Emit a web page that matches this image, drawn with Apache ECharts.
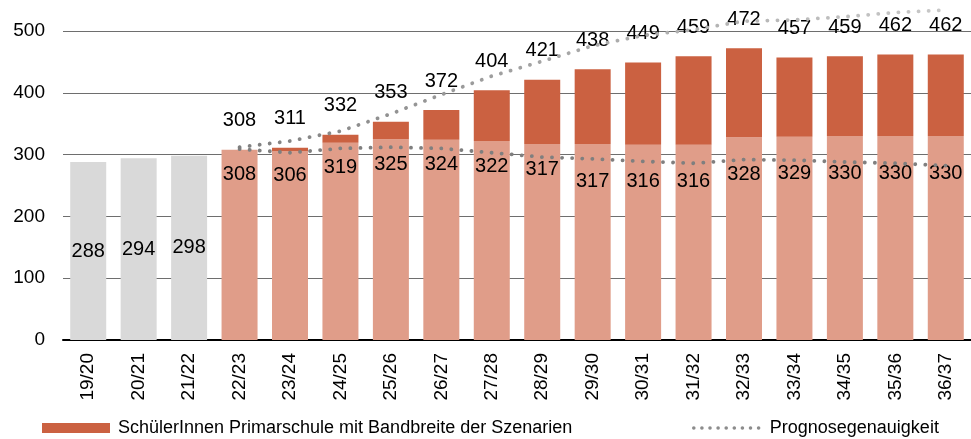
<!DOCTYPE html>
<html>
<head>
<meta charset="utf-8">
<script src="https://cdn.jsdelivr.net/npm/echarts@6/dist/echarts.min.js"></script>
<style>
  html, body { margin: 0; padding: 0; background: #fff; }
  #main { width: 971px; height: 439px; }
</style>
</head>
<body>
<div id="main"></div>
<script>
var chartDom = document.getElementById('main');
var myChart = echarts.init(chartDom);
var option;

// Schuljahre
var years = ['19/20', '20/21', '21/22', '22/23', '23/24', '24/25', '25/26', '26/27', '27/28',
  '28/29', '29/30', '30/31', '31/32', '32/33', '33/34', '34/35', '35/36', '36/37'];
// Ist-Werte (grau)
var actual = [288, 294, 298, '-', '-', '-', '-', '-', '-', '-', '-', '-', '-', '-', '-', '-', '-', '-'];
// unteres Szenario
var lower = ['-', '-', '-', 308, 306, 319, 325, 324, 322, 317, 317, 316, 316, 328, 329, 330, 330, 330];
// oberes Szenario (Gesamthoehe)
var upper = ['-', '-', '-', 308, 311, 332, 353, 372, 404, 421, 438, 449, 459, 472, 457, 459, 462, 462];
// Prognosegenauigkeit, obere und untere Linie
var accHigh = ['-', '-', '-', 312, 322, 338, 366, 397, 427, 451, 476, 493, 502, 516, 518, 523, 530, 534];
var accLow = ['-', '-', '-', 309, 303, 310, 312, 310, 303, 296, 293, 289, 286, 292, 291, 288, 286, 282];

var FONT = 'Liberation Sans, Arial, sans-serif';
var bandName = 'SchülerInnen Primarschule mit Bandbreite der Szenarien';
var lineName = 'Prognosegenauigkeit';

// Bandbreite = oberes minus unteres Szenario
var band = upper.map((v, i) => v === '-' ? '-' : v - lower[i]);

// untere Beschriftungen ab 29/30 etwas tiefer (wie im Original verschoben)
var lowerData = lower.map((v, i) => v === '-' ? v : {
  value: v,
  label: { distance: i >= 10 ? 27 : 15 }
});

var dotted = {
  type: [0.1, 10],
  cap: 'round',
  width: 3.8
};

option = {
  animation: false,
  textStyle: { fontFamily: FONT },
  grid: { left: 63, right: -3, top: 31, bottom: 99 },
  legend: [
    {
      left: 37, top: 414,
      itemWidth: 68, itemHeight: 10, itemGap: 8,
      icon: 'rect',
      textStyle: { fontFamily: FONT, fontSize: 18, color: '#000', padding: [0, 0, 0, 3] },
      data: [bandName]
    },
    {
      left: 687, top: 414,
      itemWidth: 68, itemHeight: 10,
      textStyle: { fontFamily: FONT, fontSize: 18, color: '#000', padding: [0, 0, 0, 3] },
      data: [{
        name: lineName,
        itemStyle: { color: 'rgba(0,0,0,0)', borderWidth: 0 },
        lineStyle: { color: '#8c8c8c', type: [0.1, 8], cap: 'round', width: 3.5 }
      }]
    }
  ],
  xAxis: {
    type: 'category',
    data: years,
    axisLine: { lineStyle: { color: '#000', width: 2 } },
    axisTick: { show: false },
    axisLabel: {
      rotate: 90, margin: 13,
      fontFamily: FONT, fontSize: 19, color: '#000'
    }
  },
  yAxis: {
    type: 'value',
    min: 0, max: 500, interval: 100,
    axisLine: { show: false },
    axisTick: { show: false },
    axisLabel: { margin: 18, fontFamily: FONT, fontSize: 19, color: '#000' },
    splitLine: { lineStyle: { color: '#6e6e6e', width: 1 } }
  },
  series: [
    {
      name: 'Ist',
      type: 'bar',
      stack: 'a',
      barWidth: 36,
      data: actual,
      itemStyle: { color: '#d9d9d9' },
      label: {
        show: true, position: 'inside',
        fontFamily: FONT, fontSize: 20, color: '#000'
      }
    },
    {
      name: 'unteres Szenario',
      type: 'bar',
      stack: 'a',
      barWidth: 36,
      data: lowerData,
      itemStyle: { color: '#e09d89' },
      label: {
        show: true, position: 'insideTop',
        fontFamily: FONT, fontSize: 20, color: '#000'
      }
    },
    {
      name: bandName,
      type: 'bar',
      stack: 'a',
      barWidth: 36,
      data: band,
      itemStyle: { color: '#cb6141' },
      label: {
        show: true, position: 'top', distance: 19,
        fontFamily: FONT, fontSize: 20, color: '#000',
        formatter: p => upper[p.dataIndex]
      }
    },
    {
      name: lineName,
      type: 'line',
      data: accHigh,
      symbol: 'none',
      clip: false,
      z: 5,
      lineStyle: Object.assign({}, dotted, {
        color: new echarts.graphic.LinearGradient(0, 0, 1, 0, [
          { offset: 0, color: '#7f7f7f' },
          { offset: 0.45, color: '#a6a6a6' },
          { offset: 1, color: '#c8c8c8' }
        ])
      })
    },
    {
      name: lineName,
      type: 'line',
      data: accLow,
      symbol: 'none',
      clip: false,
      z: 5,
      lineStyle: Object.assign({}, dotted, { color: '#7f7f7f' })
    }
  ]
};

option && myChart.setOption(option);
</script>
</body>
</html>
